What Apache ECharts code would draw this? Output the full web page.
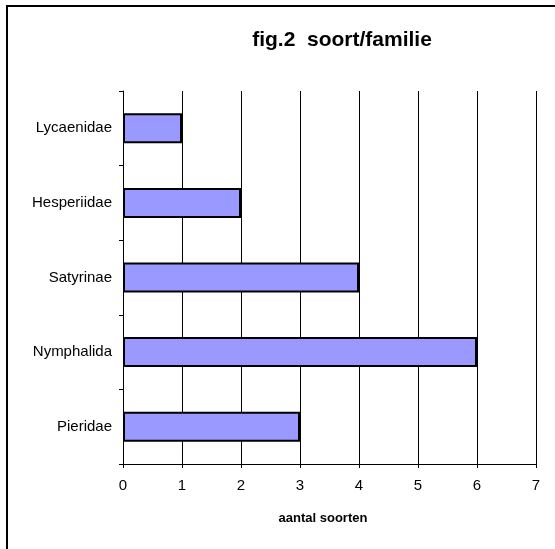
<!DOCTYPE html>
<html lang="nl">
<head>
    <meta charset="UTF-8">
    <title>fig.2 soort/familie</title>
    <style>
        html, body { margin: 0; padding: 0; background: #fff; }
    </style>
</head>
<body>
<div id="main" style="width: 555px;height: 549px;"></div>
<script src="https://cdn.jsdelivr.net/npm/echarts@6/dist/echarts.min.js"></script>
<script type="text/javascript">

    // families, from bottom to top as drawn
    var families = ['Pieridae', 'Nymphalida', 'Satyrinae', 'Hesperiidae', 'Lycaenidae'];
    // number of species per family
    var aantal = [3, 6, 4, 2, 1];
    // x axis ticks
    var xTicks = [0, 1, 2, 3, 4, 5, 6, 7];

    var option = {
        backgroundColor: '#fff',
        animation: false,
        title: {
            text: 'fig.2  soort/familie',
            left: 337,
            top: 25,
            textAlign: 'center',
            textStyle: {
                fontFamily: 'Liberation Sans',
                fontSize: 21,
                fontWeight: 'bold',
                color: '#000'
            }
        },
        // frame of the chart area (only top and left edge are in view)
        graphic: [{
            type: 'polyline',
            shape: { points: [[7, 549], [7, 6], [555, 6]] },
            style: { stroke: '#000', lineWidth: 2, fill: null }
        }],
        grid: {
            left: 123,
            right: 19,
            top: 91,
            bottom: 85
        },
        xAxis: {
            type: 'value',
            min: xTicks[0],
            max: xTicks[xTicks.length - 1],
            interval: 1,
            name: 'aantal soorten',
            nameLocation: 'middle',
            nameGap: 48,
            nameTextStyle: {
                fontFamily: 'Liberation Sans',
                fontSize: 13,
                fontWeight: 'bold',
                color: '#000',
                padding: [0, 13, 0, 0]
            },
            axisLine: { show: true, lineStyle: { color: '#000', width: 1 } },
            axisTick: { show: true, length: 4, lineStyle: { color: '#000' } },
            axisLabel: {
                margin: 14,
                fontFamily: 'Liberation Sans',
                fontSize: 15,
                color: '#000'
            },
            splitLine: { show: true, lineStyle: { color: '#000', width: 1 } }
        },
        yAxis: {
            type: 'category',
            data: families,
            axisLine: { show: true, lineStyle: { color: '#000', width: 1 } },
            axisTick: { show: true, length: 4, lineStyle: { color: '#000' } },
            axisLabel: {
                margin: 11,
                fontFamily: 'Liberation Sans',
                fontSize: 15,
                color: '#000'
            },
            splitLine: { show: false }
        },
        series: [{
            type: 'bar',
            data: aantal,
            barWidth: 30,
            itemStyle: {
                color: '#9999ff',
                borderColor: '#000',
                borderWidth: 2
            }
        }]
    };

    var myChart = echarts.init(document.getElementById('main'));
    myChart.setOption(option);
</script>
</body>
</html>
